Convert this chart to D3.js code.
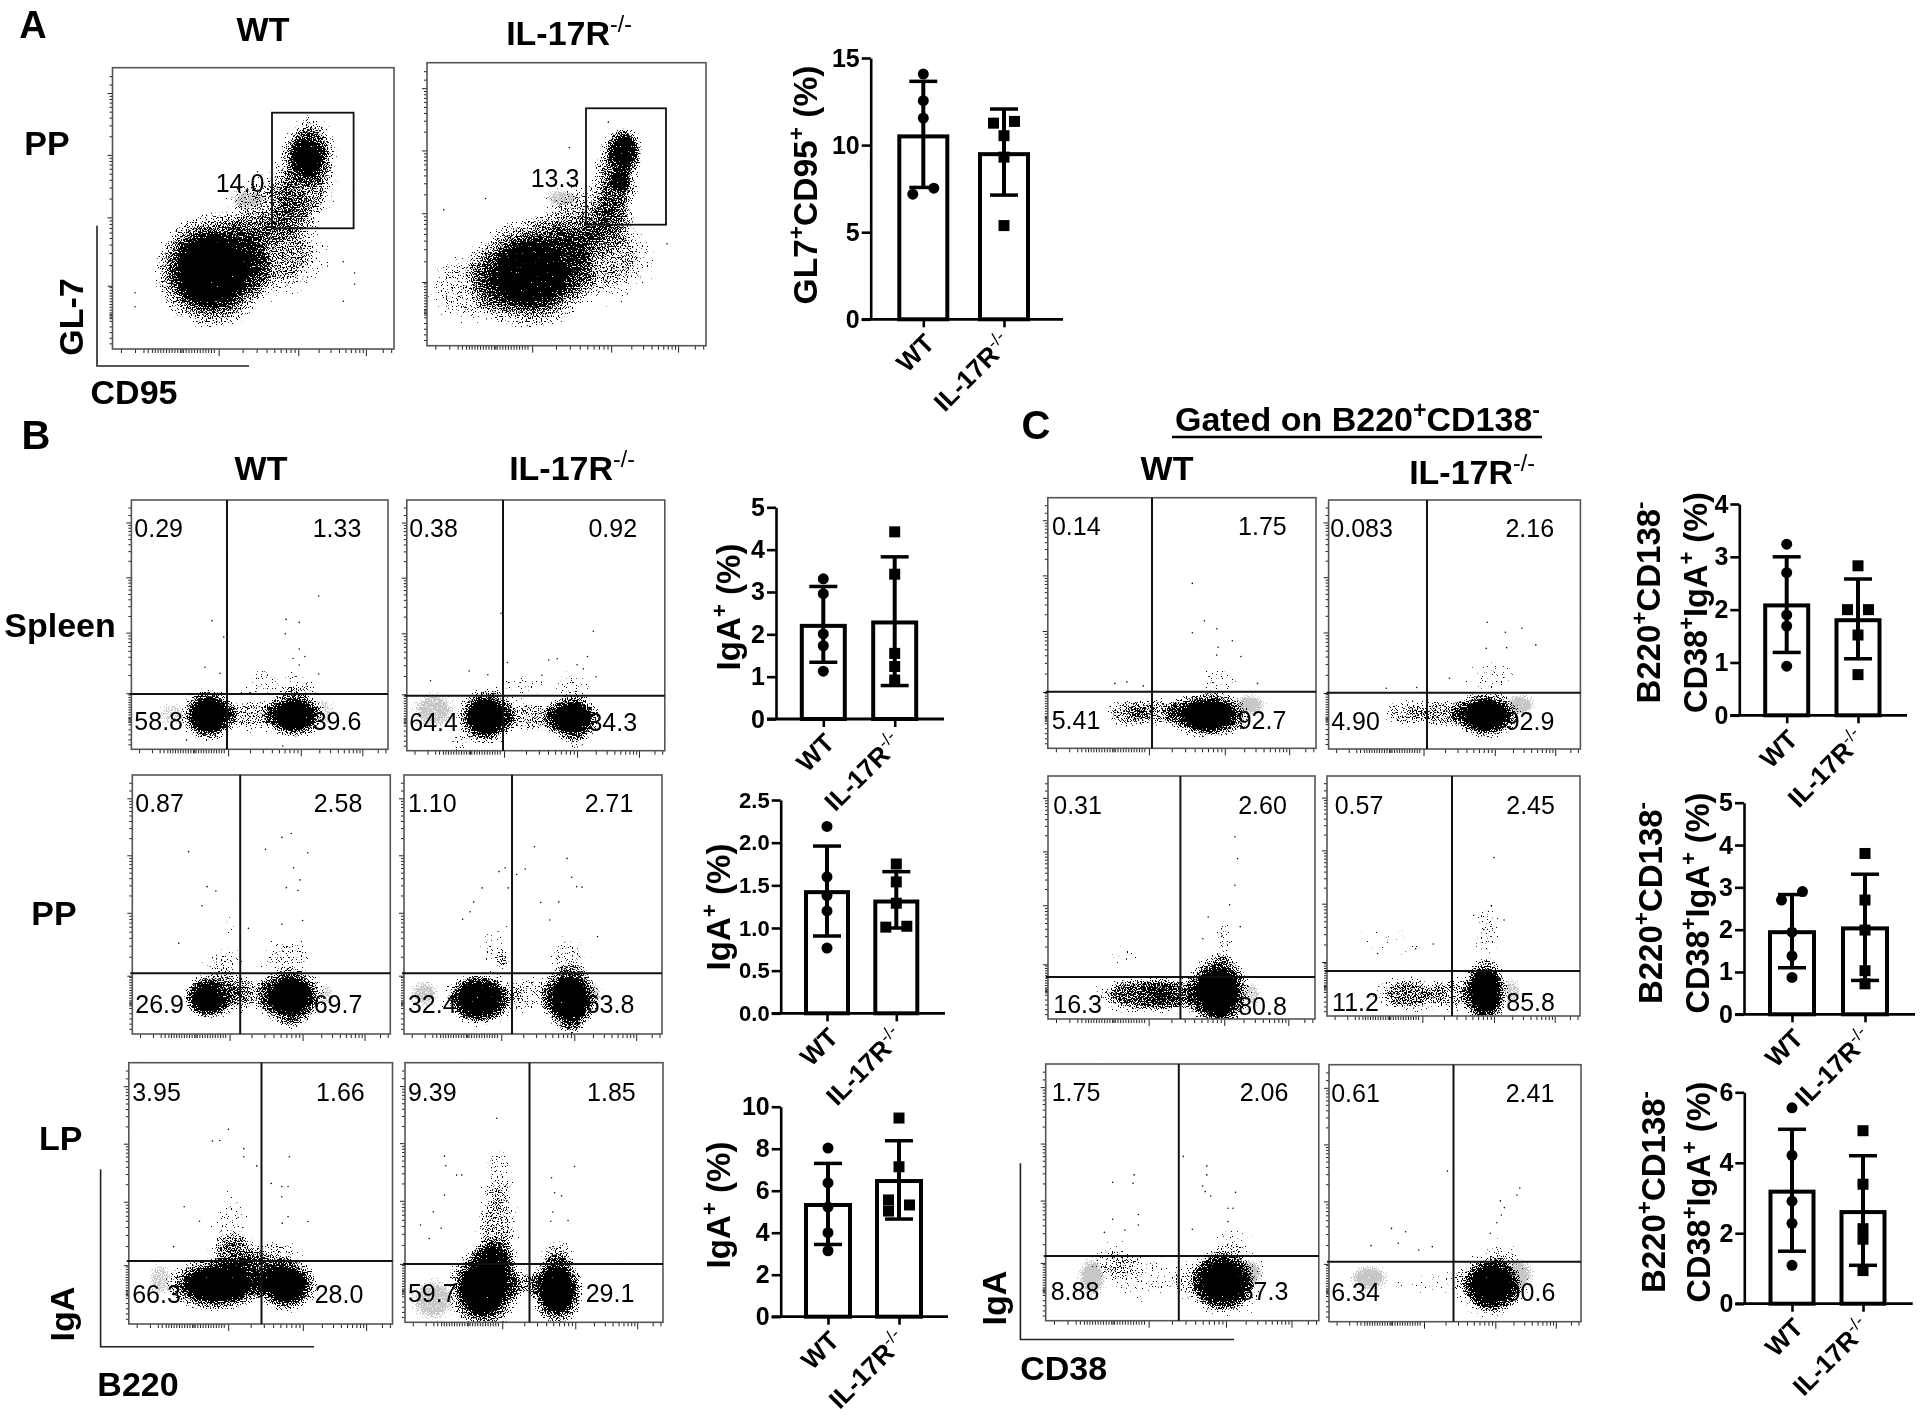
<!DOCTYPE html>
<html>
<head>
<meta charset="utf-8">
<script src="https://cdnjs.cloudflare.com/ajax/libs/d3/7.8.5/d3.min.js"></script>
<style>
  html, body { margin: 0; padding: 0; background: #fff; }
  text { font-family: "Liberation Sans", Arial, sans-serif; fill: #000; }
</style>
</head>
<body>
<div id="fig"></div>
<script>
// ---- bar chart values ----
var genotypes = ["WT", "IL-17R"];

var gl7Mean = [10.5, 9.48], gl7Upper = [13.66, 12.07], gl7Lower = [7.57, 7.13];
var gl7Wt = [14.08, 12.55, 11.55, 7.53, 7.18], gl7Ko = [11.36, 11.26, 10.54, 9.31, 5.38];

var spleenMean = [2.2, 2.28], spleenUpper = [3.13, 3.83], spleenLower = [1.34, 0.79];
var spleenWt = [3.31, 2.96, 2.01, 1.73, 1.13], spleenKo = [4.42, 3.42, 1.55, 1.24, 0.92];

var ppMean = [1.42, 1.31], ppUpper = [1.96, 1.66], ppLower = [0.906, 1.0];
var ppWt = [2.19, 1.6, 1.38, 1.2, 0.765], ppKo = [1.75, 1.54, 1.29, 1.02, 1.01];

var lpMean = [5.32, 6.46], lpUpper = [7.3, 8.38], lpLower = [3.44, 4.65];
var lpWt = [8.03, 6.37, 5.22, 4.0, 3.14], lpKo = [9.46, 7.14, 5.56, 5.32, 5.03];

var cSpleenMean = [2.08, 1.8], cSpleenUpper = [3.0, 2.58], cSpleenLower = [1.19, 1.07];
var cSpleenWt = [3.24, 2.7, 1.9, 1.69, 0.93], cSpleenKo = [2.83, 2.0, 2.0, 1.52, 0.77];

var cPpMean = [1.94, 2.03], cPpUpper = [2.83, 3.31], cPpLower = [1.1, 0.8];
var cPpWt = [2.9, 2.7, 1.94, 1.38, 0.87], cPpKo = [3.8, 2.7, 1.99, 1.03, 0.72];

var cLpMean = [3.18, 2.6], cLpUpper = [4.95, 4.2], cLpLower = [1.49, 1.09];
var cLpWt = [5.56, 4.21, 2.91, 2.28, 1.09], cLpKo = [4.91, 3.39, 2.13, 1.83, 0.94];

// ---- flow plots: populations as [x, y, rx, ry, density] in % of the plot box, isolated events as [x, y] ----
var aWtClouds = [[35.3,28,22,22,1],[58,34,22,18,.48],[53.6,50.6,18,15,.38],[68,57.7,14,18,.48],[70,70.7,11,14,.62],[69,68,6,7,1]];
var aWtGrey = [[49,53,9,5,.7]];
var aWtEvents = [[8,20],[86,27],[86,23],[82,17],[82,31],[8,15]];
var aKoClouds = [[37.3,25.6,24,21,.9],[15,20,20,16,.34],[63,31.5,22,19,.44],[55,44.5,20,15,.42],[67.7,58.5,10,20,.55],[71,69,7,9,.8],[69,58.5,4,5,.8]];
var aKoGrey = [[48.5,52,8,4,.7]];
var aKoEvents = [[65,79],[6,48],[21,52],[51,70],[86,36]];

var bSpleenWtClouds = [[30,13.8,11.5,11.5,1],[63.7,13.8,13,10,1],[47,13.8,17,8,.42],[52,28.5,8,6,.27],[65,26.5,9,6,.27],[57,23,24,3,.24]];
var bSpleenWtGrey = [[16,14,7,6,.5],[75,15,6,7,.5]];
var bSpleenWtEvents = [[31.4,51.6],[36,45],[28.7,32.9],[34.5,30.5],[60.3,52.1],[65.4,50.9],[60,46.3],[65.4,40.2],[63,36.4],[67.6,37.2],[65.4,33.8],[73,61.5],[73,30.2],[21.5,3.7],[59,1.3]];
var bSpleenKoClouds = [[30.6,13.6,12,12,1],[64.2,13,12,10,1],[47.4,13.6,18,8,.42],[20.5,3,5,6,.3],[66,3,5,5,.28],[44,25.5,16,6,.24],[64,25.5,11,7,.27]];
var bSpleenKoGrey = [[10.5,16,10,9,.75]];
var bSpleenKoEvents = [[36.5,54.8],[72.3,47.6],[24.2,31.8],[9.2,27.9],[70,37.6],[58.3,36.7],[55,36.2],[66,34.3],[68.4,32.7],[39,35.2],[52.4,30.1],[73.4,29.5],[31.4,30.3]];

var bPpWtClouds = [[29,13.8,9,8,1],[33,15.7,15,11,.55],[61.3,14.4,14,12,1],[47.9,15.7,13,9,.34],[36,28.6,10,8,.27],[59.7,30,14,9,.3],[37.7,41.4,5,7,.24],[61.3,4,5,5,.26]];
var bPpWtGrey = [[75,15,5,6,.5]];
var bPpWtEvents = [[61.6,77.4],[58,75.9],[51.6,71.3],[68,70],[21.8,70.4],[62.5,64.2],[65,59.5],[29,56.9],[32.4,55.2],[59.7,56.5],[64.2,55.4],[27,49.5],[58,42.4],[66,43.8],[18,35],[45,40.8]];
var bPpKoClouds = [[29,13.4,12,9.5,1],[30,13.8,18,12,.55],[64.4,13.8,12,14,1],[50,15.7,12,10,.32],[63.5,30,11,10,.3],[35,33.7,8,13,.22],[38.3,28.6,3,4,.36],[65,3,5,5,.28]];
var bPpKoGrey = [[8,15.7,7,6,.7],[73,15,5,7,.6]];
var bPpKoEvents = [[50.6,72.3],[63.2,67.8],[47,63.7],[39.2,64.2],[36.8,62.7],[43.7,61.6],[65,60.5],[30.3,56.4],[66.9,56.9],[69,56.7],[40.4,56.4],[53,50.8],[60,51],[27,51],[25.6,47.2],[22.7,44.3],[75,37.6],[56.5,44]];

var bLpWtClouds = [[33.4,15,21,11,1],[59.7,15,13,11,1],[46.5,19.4,15,9,.55],[39,37.2,9,19,.26],[40,27,12,9,.42],[56,27,12,7,.34]];
var bLpWtGrey = [[12,17,6,8,.6]];
var bLpWtEvents = [[37.8,74.5],[31.7,70],[34.5,70.2],[43.6,67.1],[43.6,64],[60.9,64],[48.5,60.5],[54,53.8],[58,52.6],[60.4,52.6],[58,48.7],[21,44.9],[26.8,39.3],[17,29.6],[60.4,41.1],[67.9,39.2],[58.2,38.6]];
var bLpKoClouds = [[30.4,13,15,17,1],[59,12.6,11,15,1],[44.7,15,13,7,.45],[35.5,36.8,10,19,.42],[36.3,57.4,8,15,.28],[34.6,24,10,9,.68],[59,26.7,8,7,.38]];
var bLpKoGrey = [[11,8.6,11,10,.75]];
var bLpKoEvents = [[35.5,78.6],[15.3,64],[15.8,60.3],[20,56.7],[22,56.7],[15.3,49],[65.7,60],[56.8,55.7],[58,49.9],[60.7,48.7],[57.3,42.5],[56.5,38.9],[63.2,39.2],[11,42.6],[6,37.5],[9.4,32.3],[14,36.2]];

var cSpleenWtClouds = [[60,13.3,17,10,1],[41.7,14.6,13,7,.46],[29.5,14,10,7,.46],[64.5,27.3,11,8,.24]];
var cSpleenWtGrey = [[75.2,17.3,7,5,.9]];
var cSpleenWtEvents = [[53.9,65.8],[58.4,50.9],[53.9,46.1],[63,47.7],[68.8,42.9],[63.5,40.3],[63,37.2],[72,36.6],[25,25.9],[29.5,26.5],[35.6,24.9],[78.2,25.9]];
var cSpleenKoClouds = [[62.6,13.7,15,10,1],[44.7,14.3,14,7,.46],[30,14.3,11,7,.38],[65.8,29,14,9,.23]];
var cSpleenKoGrey = [[76,17.7,7,5,.9]];
var cSpleenKoEvents = [[63,50.9],[70.2,46.9],[76.8,48.5],[82.3,41.8],[62.6,40.4],[70.7,40.7],[48,28.4],[22.9,24.4],[35,24.7]];

var cPpWtClouds = [[63.8,11,13,17,1],[34,10,19,9,.6],[48,10,15,9,.5],[66,31,5,14,.28],[27,26,12,6,.18]];
var cPpWtGrey = [[76,10,5,7,.6]];
var cPpWtEvents = [[70,75],[71,66],[70,55],[68,47],[60,42],[72,38],[65,34],[58,33]];
var cPpKoClouds = [[62.6,10,10,15,1],[32,9,16,9,.52],[49,9,11,9,.42],[63.6,35,6,16,.3],[27,30,18,9,.16]];
var cPpKoGrey = [[73,10,5,7,.6]];
var cPpKoEvents = [[66,66],[65,46],[62,36],[58,42],[70,40],[42,30],[35,28],[20,26]];

var cLpWtClouds = [[64.9,15.2,12,12,1],[64.5,15.2,19,16,.5],[35.7,17,22,12,.24],[25,23.6,11,9,.28],[68.6,30.8,11,7,.22]];
var cLpWtGrey = [[17,17,6,9,.9],[74,18.4,7,7,.9]];
var cLpWtEvents = [[50.4,64],[59,60.3],[59,56.8],[57.4,52.5],[58.4,50.3],[60.4,48.6],[69.5,50],[66.7,43.8],[68.6,43.8],[66.7,38.6],[32.4,56.8],[24.5,53.9],[32,53.5],[33.9,41.4],[24.5,39.5],[33.9,37.3],[53.7,35.6],[29,35.3],[21.5,34.4]];
var cLpKoClouds = [[64.7,14.3,12,11,1],[64.7,14.3,17,15,.5],[39.6,14.9,24,7,.2],[70.4,27.9,9,8,.22]];
var cLpKoGrey = [[16,16.9,9,6,.9],[75,18,7,8,.9]];
var cLpKoEvents = [[47,58.6],[75.7,52],[74.6,49.3],[68,47],[69.6,44.4],[68.4,41.5],[66.6,38.5],[24.8,36.3],[30.4,35],[27.5,30.5],[16.7,29.6],[41,29.2],[35.6,27.9],[64,34.4]];

// tick positions on the flow plots, % of the box
var flowXMajor = [37.7, 66, 90];
var flowXLow = [3,8,11,12.5,14,15,16,17,18,19,20,21,22,23,24,24.5,25,26,27,28,29,30,31,32,33,34,35,36];
var flowYMajor = [22.5, 46.8, 69, 91];
var flowYLow = [2,4,6,8,10,11,11.5,12,12.5,13,14,15,16,17,18,19,20,21,22];

var width = 1920, height = 1418;

var svg = d3.select("#fig").append("svg")
    .attr("width", width)
    .attr("height", height)
    .attr("viewBox", "0 0 " + width + " " + height)
    .style("display", "block");

var defs = svg.append("defs");

var grad = defs.append("radialGradient").attr("id", "blob");
[[0, 1], [0.45, 1], [0.65, 0.6], [0.88, 0.3], [1, 0]].forEach(function (s) {
    grad.append("stop").attr("offset", s[0]).attr("stop-color", "#000").attr("stop-opacity", s[1]);
});

// stipple: blob density + fine noise, thresholded, so dense parts go solid and edges break into dots
var stipple = defs.append("filter")
    .attr("id", "stipple")
    .attr("filterUnits", "userSpaceOnUse")
    .attr("x", 0).attr("y", 0).attr("width", width).attr("height", height)
    .attr("color-interpolation-filters", "sRGB");
stipple.append("feTurbulence")
    .attr("type", "fractalNoise").attr("baseFrequency", 0.8).attr("numOctaves", 1).attr("seed", 7).attr("result", "n");
stipple.append("feColorMatrix")
    .attr("in", "n").attr("type", "matrix")
    .attr("values", "0 0 0 0 0  0 0 0 0 0  0 0 0 0 0  1.6 0 0 0 -0.3").attr("result", "na");
stipple.append("feComposite")
    .attr("in", "SourceAlpha").attr("in2", "na").attr("operator", "arithmetic")
    .attr("k1", 0).attr("k2", 0.5).attr("k3", 0.5).attr("k4", 0).attr("result", "sum");
stipple.append("feComponentTransfer").attr("in", "sum")
    .append("feFuncA").attr("type", "linear").attr("slope", 30).attr("intercept", -30 * 0.5);

var greyLayer = svg.append("g").attr("filter", "url(#stipple)").attr("opacity", 0.22);
var cloudLayer = svg.append("g").attr("filter", "url(#stipple)");
var flowTop = svg.append("g");
var barLayer = svg.append("g");
var textLayer = svg.append("g");

// parts: [string, isSup, thin]
function richText(parent, x, y, parts, size, opts) {
    opts = opts || {};
    var t = parent.append("text")
        .attr("transform", "translate(" + x + "," + y + ")" + (opts.rotate ? " rotate(" + opts.rotate + ")" : ""))
        .attr("text-anchor", opts.anchor || "middle")
        .attr("dy", opts.dy || "0.36em")
        .attr("font-size", size)
        .attr("font-weight", opts.weight || "bold");
    var wasSup = false;
    parts.forEach(function (p) {
        var sup = !!p[1];
        var sz = sup ? size * 0.68 : size;
        var ts = t.append("tspan").text(p[0]).attr("font-size", sz);
        if (p[2]) ts.attr("font-weight", "normal");
        if (sup && !wasSup) ts.attr("dy", -size * 0.38);
        if (!sup && wasSup) ts.attr("dy", size * 0.38);
        wasSup = sup;
    });
    return t;
}

var koParts = [["IL-17R"], ["-/-", true, true]];

function flowPanel(p, i) {
    var x = d3.scaleLinear().domain([0, 100]).range([p.box[0], p.box[2]]);
    var y = d3.scaleLinear().domain([0, 100]).range([p.box[3], p.box[1]]);

    defs.append("clipPath").attr("id", "clip" + i).append("rect")
        .attr("x", p.box[0]).attr("y", p.box[1])
        .attr("width", p.box[2] - p.box[0]).attr("height", p.box[3] - p.box[1]);

    function blobs(layer, rows) {
        layer.append("g").attr("clip-path", "url(#clip" + i + ")")
            .selectAll("ellipse").data(rows).enter().append("ellipse")
            .attr("cx", function (d) { return x(d[0]); })
            .attr("cy", function (d) { return y(d[1]); })
            .attr("rx", function (d) { return x(d[2]) - x(0); })
            .attr("ry", function (d) { return y(0) - y(d[3]); })
            .attr("fill", "url(#blob)")
            .attr("fill-opacity", function (d) { return d[4]; });
    }
    blobs(greyLayer, p.grey);
    blobs(cloudLayer, p.clouds);

    var g = flowTop.append("g");

    g.selectAll("circle").data(p.events).enter().append("circle")
        .attr("cx", function (d) { return x(d[0]); })
        .attr("cy", function (d) { return y(d[1]); })
        .attr("r", 0.8)
        .attr("fill", "#111");

    var xMinor = flowXLow.slice(), yMinor = flowYLow.slice();
    d3.pairs(flowXMajor).forEach(function (q) {
        d3.range(2, 10).forEach(function (m) { xMinor.push(q[0] + (q[1] - q[0]) * Math.log10(m)); });
    });
    d3.pairs(flowYMajor).forEach(function (q) {
        d3.range(2, 10).forEach(function (m) { yMinor.push(q[0] + (q[1] - q[0]) * Math.log10(m)); });
    });
    xMinor.push(96, 99);
    yMinor.push(94, 97);

    [[xMinor, 4], [flowXMajor, 7]].forEach(function (t) {
        g.append("g").attr("class", "flowtick")
            .attr("transform", "translate(0," + p.box[3] + ")")
            .call(d3.axisBottom(x).tickValues(t[0]).tickSize(t[1]).tickFormat(""));
    });
    [[yMinor, 3], [flowYMajor, 5]].forEach(function (t) {
        g.append("g").attr("class", "flowtick")
            .attr("transform", "translate(" + p.box[0] + ",0)")
            .call(d3.axisLeft(y).tickValues(t[0]).tickSize(t[1]).tickFormat(""));
    });
    g.selectAll(".flowtick .domain").remove();
    g.selectAll(".flowtick line").attr("stroke", "#222").attr("stroke-width", 1);

    g.append("rect")
        .attr("x", p.box[0]).attr("y", p.box[1])
        .attr("width", p.box[2] - p.box[0]).attr("height", p.box[3] - p.box[1])
        .attr("fill", "none").attr("stroke", "#555").attr("stroke-width", 1.6);

    if (p.gate) {
        g.append("rect")
            .attr("x", p.gate[0]).attr("y", p.gate[1])
            .attr("width", p.gate[2] - p.gate[0]).attr("height", p.gate[3] - p.gate[1])
            .attr("fill", "none").attr("stroke", "#111").attr("stroke-width", 1.8);
    } else {
        g.append("line").attr("x1", p.v).attr("x2", p.v).attr("y1", p.box[1]).attr("y2", p.box[3])
            .attr("stroke", "#111").attr("stroke-width", 2);
        g.append("line").attr("x1", p.box[0] - 2).attr("x2", p.box[2]).attr("y1", p.h).attr("y2", p.h)
            .attr("stroke", "#111").attr("stroke-width", 2);
    }

    p.labels.forEach(function (s, j) {
        g.append("text")
            .attr("x", p.at[j][0]).attr("y", p.at[j][1])
            .attr("dy", "0.36em")
            .attr("text-anchor", "middle")
            .attr("font-size", 25)
            .text(s);
    });
}

var panels = [
    {box: [112.5, 67.7, 394, 349], gate: [272, 112.7, 353.6, 228.3], clouds: aWtClouds, grey: aWtGrey, events: aWtEvents,
     labels: ["14.0"], at: [[240, 182.7]]},
    {box: [427, 62.7, 706, 345.7], gate: [586, 108.3, 666, 224.7], clouds: aKoClouds, grey: aKoGrey, events: aKoEvents,
     labels: ["13.3"], at: [[555, 178]]},

    {box: [131.4, 500, 388, 749.3], v: 227, h: 694, clouds: bSpleenWtClouds, grey: bSpleenWtGrey, events: bSpleenWtEvents,
     labels: ["0.29", "1.33", "58.8", "39.6"], at: [[158.7, 528], [337, 528], [158.7, 720.7], [337, 720.7]]},
    {box: [406.8, 500, 664.8, 750.7], v: 503, h: 695.7, clouds: bSpleenKoClouds, grey: bSpleenKoGrey, events: bSpleenKoEvents,
     labels: ["0.38", "0.92", "64.4", "34.3"], at: [[433.6, 528], [612.8, 528], [433.6, 722], [612.8, 722]]},

    {box: [132.3, 775, 390.3, 1034], v: 240.2, h: 973.3, clouds: bPpWtClouds, grey: bPpWtGrey, events: bPpWtEvents,
     labels: ["0.87", "2.58", "26.9", "69.7"], at: [[159.6, 803.3], [338, 803.3], [159.6, 1004.3], [338, 1004.3]]},
    {box: [404, 775, 662, 1034], v: 512, h: 973.3, clouds: bPpKoClouds, grey: bPpKoGrey, events: bPpKoEvents,
     labels: ["1.10", "2.71", "32.4", "63.8"], at: [[432.3, 803], [609, 803], [432.3, 1004], [610, 1004]]},

    {box: [128.8, 1062.7, 392.5, 1324], v: 261.5, h: 1261, clouds: bLpWtClouds, grey: bLpWtGrey, events: bLpWtEvents,
     labels: ["3.95", "1.66", "66.3", "28.0"], at: [[156.5, 1091.7], [340.4, 1091.7], [156.5, 1294], [339, 1294]]},
    {box: [405, 1062.7, 663, 1322.3], v: 529.5, h: 1264, clouds: bLpKoClouds, grey: bLpKoGrey, events: bLpKoEvents,
     labels: ["9.39", "1.85", "59.7", "29.1"], at: [[432.3, 1092], [611.4, 1092], [432.3, 1293], [610, 1293]]},

    {box: [1047.8, 497.7, 1316, 748.3], v: 1152, h: 691.7, clouds: cSpleenWtClouds, grey: cSpleenWtGrey, events: cSpleenWtEvents,
     labels: ["0.14", "1.75", "5.41", "92.7"], at: [[1076.3, 526], [1262.4, 526], [1076, 720], [1262, 720]]},
    {box: [1328.6, 500, 1580.4, 749], v: 1427, h: 692.7, clouds: cSpleenKoClouds, grey: cSpleenKoGrey, events: cSpleenKoEvents,
     labels: ["0.083", "2.16", "4.90", "92.9"], at: [[1361.6, 528], [1529.8, 528], [1355.5, 720.7], [1530, 721]]},

    {box: [1048, 776, 1315, 1019], v: 1180.4, h: 977, clouds: cPpWtClouds, grey: cPpWtGrey, events: cPpWtEvents,
     labels: ["0.31", "2.60", "16.3", "80.8"], at: [[1077.6, 804.5], [1262.5, 804.5], [1077.6, 1004], [1262.5, 1006]]},
    {box: [1327, 776, 1580, 1016], v: 1452, h: 971, clouds: cPpKoClouds, grey: cPpKoGrey, events: cPpKoEvents,
     labels: ["0.57", "2.45", "11.2", "85.8"], at: [[1359, 804.5], [1530.6, 804.5], [1355.5, 1001.6], [1530.6, 1001.6]]},

    {box: [1045.7, 1064, 1318.8, 1320.7], v: 1178.8, h: 1256, clouds: cLpWtClouds, grey: cLpWtGrey, events: cLpWtEvents,
     labels: ["1.75", "2.06", "8.88", "87.3"], at: [[1076, 1092.3], [1264, 1092.3], [1075, 1290.7], [1264, 1291]]},
    {box: [1329, 1064.7, 1581, 1321.7], v: 1453.5, h: 1261.7, clouds: cLpKoClouds, grey: cLpKoGrey, events: cLpKoEvents,
     labels: ["0.61", "2.41", "6.34", "90.6"], at: [[1355.5, 1093], [1530, 1093], [1355.5, 1292], [1531, 1292]]}
];

panels.forEach(flowPanel);

// spreads points that would sit on top of each other, like the prism dot plots
function dodge(values, y) {
    var sorted = values.slice().sort(d3.ascending);
    var out = [];
    sorted.forEach(function (v, i) {
        var near = (i > 0 && y(sorted[i - 1]) - y(v) < 9) || (i < sorted.length - 1 && y(v) - y(sorted[i + 1]) < 9);
        var prev = out[i - 1];
        var side = 0;
        if (near) side = prev && prev.side < 0 ? 1 : -1;
        out.push({value: v, side: side});
    });
    return out;
}

function barChart(c) {
    var y = d3.scaleLinear().domain([0, c.ymax]).range([c.bottom, c.top]);
    var x = d3.scalePoint().domain(genotypes).range(c.centers);
    var g = barLayer.append("g");

    g.selectAll("rect").data(c.mean).enter().append("rect")
        .attr("x", function (d, i) { return x(genotypes[i]) - c.barW / 2; })
        .attr("y", function (d) { return y(d); })
        .attr("width", c.barW)
        .attr("height", function (d) { return c.bottom - y(d); })
        .attr("fill", "none")
        .attr("stroke", "#000")
        .attr("stroke-width", 4);

    genotypes.forEach(function (name, i) {
        var cx = x(name);
        g.append("line").attr("x1", cx).attr("x2", cx).attr("y1", y(c.upper[i])).attr("y2", y(c.lower[i]))
            .attr("stroke", "#000").attr("stroke-width", 4);
        [c.upper[i], c.lower[i]].forEach(function (v) {
            g.append("line").attr("x1", cx - 14).attr("x2", cx + 14).attr("y1", y(v)).attr("y2", y(v))
                .attr("stroke", "#000").attr("stroke-width", 3.5);
        });
        var pts = dodge(c.points[i], y);
        if (i == 0) {
            g.selectAll(".dot").data(pts).enter().append("circle")
                .attr("class", "dot")
                .attr("cx", function (d) { return cx + d.side * 10.5; })
                .attr("cy", function (d) { return y(d.value); })
                .attr("r", 5.5);
        } else {
            g.selectAll(".sq").data(pts).enter().append("rect")
                .attr("class", "sq")
                .attr("x", function (d) { return cx + d.side * 10.5 - 5.5; })
                .attr("y", function (d) { return y(d.value) - 5.5; })
                .attr("width", 11)
                .attr("height", 11);
        }
    });

    var yAxis = g.append("g")
        .attr("transform", "translate(" + c.left + ",0)")
        .call(d3.axisLeft(y).tickValues(c.ticks).tickSize(9).tickSizeOuter(0).tickPadding(2).tickFormat(d3.format(c.fmt)));
    yAxis.selectAll("text").attr("font-size", c.tickFont || 25).attr("font-weight", "bold").attr("fill", "#000")
        .attr("font-family", '"Liberation Sans", Arial, sans-serif');
    yAxis.selectAll("line, path").attr("stroke", "#000").attr("stroke-width", 2.6);

    var xAxis = g.append("g")
        .attr("transform", "translate(0," + c.bottom + ")")
        .call(d3.axisBottom(x).tickSize(8).tickSizeOuter(0).tickFormat(""));
    xAxis.select(".domain").remove();
    xAxis.selectAll("line").attr("stroke", "#000").attr("stroke-width", 2.6);
    g.append("line").attr("x1", c.left - 9).attr("x2", c.right).attr("y1", c.bottom).attr("y2", c.bottom)
        .attr("stroke", "#000").attr("stroke-width", 2.8);

    richText(g, x("WT") + 6, c.bottom + 19, [["WT"]], 26, {rotate: -45, anchor: "end"});
    richText(g, x("IL-17R") + 2, c.bottom + 19, koParts, 26, {rotate: -45, anchor: "end"});
}

var charts = [
    {left: 870.7, right: 1063, top: 58, bottom: 319.3, centers: [923.3, 1004], barW: 48, ymax: 15, ticks: [0, 5, 10, 15], fmt: "d",
     mean: gl7Mean, upper: gl7Upper, lower: gl7Lower, points: [gl7Wt, gl7Ko]},
    {left: 776, right: 944, top: 507.3, bottom: 719, centers: [823.3, 894.7], barW: 43, ymax: 5, ticks: [0, 1, 2, 3, 4, 5], fmt: "d",
     mean: spleenMean, upper: spleenUpper, lower: spleenLower, points: [spleenWt, spleenKo]},
    {left: 780.7, right: 945, top: 800, bottom: 1013.3, centers: [827, 896.3], barW: 42, ymax: 2.5, ticks: [0, 0.5, 1, 1.5, 2, 2.5], fmt: ".1f", tickFont: 22,
     mean: ppMean, upper: ppUpper, lower: ppLower, points: [ppWt, ppKo]},
    {left: 780.7, right: 948, top: 1106.7, bottom: 1316.7, centers: [828, 899], barW: 44, ymax: 10, ticks: [0, 2, 4, 6, 8, 10], fmt: "d",
     mean: lpMean, upper: lpUpper, lower: lpLower, points: [lpWt, lpKo]},
    {left: 1739.3, right: 1907, top: 504, bottom: 715.3, centers: [1786.7, 1858], barW: 43, ymax: 4, ticks: [0, 1, 2, 3, 4], fmt: "d",
     mean: cSpleenMean, upper: cSpleenUpper, lower: cSpleenLower, points: [cSpleenWt, cSpleenKo]},
    {left: 1744, right: 1915, top: 802.7, bottom: 1014.3, centers: [1792, 1865], barW: 44, ymax: 5, ticks: [0, 1, 2, 3, 4, 5], fmt: "d",
     mean: cPpMean, upper: cPpUpper, lower: cPpLower, points: [cPpWt, cPpKo]},
    {left: 1744.3, right: 1912.7, top: 1092.3, bottom: 1303.7, centers: [1792, 1863], barW: 43, ymax: 6, ticks: [0, 2, 4, 6], fmt: "d",
     mean: cLpMean, upper: cLpUpper, lower: cLpLower, points: [cLpWt, cLpKo]}
];

charts.forEach(barChart);

// ---- text and the little axis arrows ----
var igaParts = [["IgA"], ["+", true], [" (%)"]];
var b220Parts = [["B220"], ["+", true], ["CD138"], ["-", true]];
var cd38Parts = [["CD38"], ["+", true], ["IgA"], ["+", true], [" (%)"]];

richText(textLayer, 805, 185, [["GL7"], ["+", true], ["CD95"], ["+", true], [" (%)"]], 33.5, {rotate: -90});
richText(textLayer, 728, 607, igaParts, 33, {rotate: -90});
richText(textLayer, 718, 907, igaParts, 33, {rotate: -90});
richText(textLayer, 718, 1205, igaParts, 33, {rotate: -90});

[[1648, 1695, 602.5], [1650, 1697, 903], [1653, 1698, 1192]].forEach(function (r) {
    richText(textLayer, r[0], r[2], b220Parts, 33, {rotate: -90});
    richText(textLayer, r[1], r[2], cd38Parts, 32.5, {rotate: -90});
});

richText(textLayer, 33, 24, [["A"]], 38);
richText(textLayer, 36, 435, [["B"]], 40);
richText(textLayer, 1036, 425, [["C"]], 40);

richText(textLayer, 263, 29, [["WT"]], 34);
richText(textLayer, 569, 33, koParts, 34);
richText(textLayer, 261, 467.3, [["WT"]], 34);
richText(textLayer, 572, 467.3, koParts, 34);
richText(textLayer, 1167, 468, [["WT"]], 34);
richText(textLayer, 1472, 472, koParts, 34);

richText(textLayer, 47, 143, [["PP"]], 34);
richText(textLayer, 60, 625, [["Spleen"]], 34);
richText(textLayer, 54, 912.7, [["PP"]], 34);
richText(textLayer, 60.7, 1138, [["LP"]], 34);

richText(textLayer, 1357.5, 419, [["Gated on B220"], ["+", true], ["CD138"], ["-", true]], 34);
textLayer.append("line").attr("x1", 1172).attr("x2", 1542).attr("y1", 437).attr("y2", 437)
    .attr("stroke", "#000").attr("stroke-width", 2.5);

richText(textLayer, 71, 317, [["GL-7"]], 34, {rotate: -90});
richText(textLayer, 134, 392, [["CD95"]], 34);
richText(textLayer, 62, 1314, [["IgA"]], 34, {rotate: -90});
richText(textLayer, 138, 1384, [["B220"]], 34);
richText(textLayer, 994, 1298, [["IgA"]], 34, {rotate: -90});
richText(textLayer, 1063.7, 1368, [["CD38"]], 34);

[[97, 225.7, 366, 249], [100.6, 1169.3, 1346.7, 314], [1020.4, 1163.3, 1339.5, 1234]].forEach(function (a) {
    textLayer.append("path")
        .attr("d", d3.line()([[a[0], a[1]], [a[0], a[2]], [a[3], a[2]]]))
        .attr("fill", "none")
        .attr("stroke", "#222")
        .attr("stroke-width", 1.6);
});
</script>
</body>
</html>
